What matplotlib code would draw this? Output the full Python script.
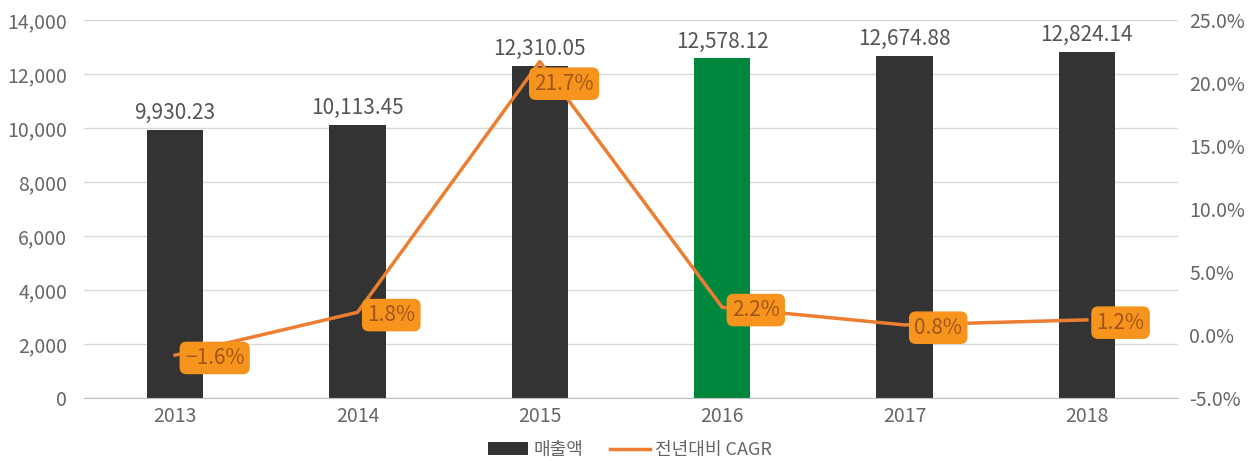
import matplotlib
matplotlib.use('Agg')
import matplotlib.pyplot as plt
from matplotlib.ticker import FuncFormatter

plt.rcParams['font.family'] = ['Noto Sans CJK KR', 'DejaVu Sans']

years = ['2013', '2014', '2015', '2016', '2017', '2018']
sales = [9930.23, 10113.45, 12310.05, 12578.12, 12674.88, 12824.14]
cagr = [-1.6, 1.8, 21.7, 2.2, 0.8, 1.2]
bar_colors = ['#333333', '#333333', '#333333', '#00873E', '#333333', '#333333']

fig = plt.figure(figsize=(12.6, 4.61), dpi=100)
ax = fig.add_axes([84 / 1260, 1 - 398 / 461, (1178 - 84) / 1260, 378 / 461])
x = list(range(len(years)))
bars = ax.bar(x, sales, width=0.31, color=bar_colors, zorder=2, label='매출액')
ax.set_xlim(-0.5, 5.5)
ax.set_ylim(0, 14000)
ax.set_yticks(range(0, 14001, 2000))
ax.yaxis.set_major_formatter(FuncFormatter(lambda v, p: f'{v:,.0f}'))
ax.set_xticks(x)
ax.set_xticklabels(years)
ax.grid(axis='y', color='#D9D9D9', lw=1, zorder=0)
for s in ['top', 'right', 'left']:
    ax.spines[s].set_visible(False)
ax.spines['bottom'].set_color('#BFBFBF')
ax.tick_params(axis='both', length=0, colors='#666666', labelsize=14)
ax.tick_params(axis='x', pad=6)
ax.tick_params(axis='y', pad=12)

for xi, v in zip(x, sales):
    ax.annotate(f'{v:,.2f}', (xi, v), xytext=(0, 4), textcoords='offset points',
                ha='center', va='bottom', fontsize=15, color='#555555')

ax2 = ax.twinx()
ax2.set_ylim(-5, 25)
ax2.set_yticks(range(-5, 26, 5))
ax2.yaxis.set_major_formatter(FuncFormatter(lambda v, p: f'{v:.1f}%'))
for s in ax2.spines.values():
    s.set_visible(False)
ax2.tick_params(axis='y', length=0, colors='#666666', labelsize=14, pad=8)
line, = ax2.plot(x, cagr, color='#ED7D31', lw=2.5, zorder=3, label='전년대비 CAGR')

for xi, v in zip(x, cagr):
    if v > 20:
        off, va = (-4, -8), 'top'
    else:
        off, va = (7, -2), 'center'
    t = f'{v:.1f}%'.replace('-', '−')
    ax2.annotate(t, (xi, v), xytext=off, textcoords='offset points',
                 ha='left', va=va, fontsize=15, color='#A0561A',
                 bbox=dict(boxstyle='round,pad=0.22,rounding_size=0.3',
                           fc='#F7941D', ec='#F7941D'), zorder=4)

fig.legend([bars, line], ['매출액', '전년대비 CAGR'], loc='center',
           bbox_to_anchor=(0.5, 1 - 450 / 461), ncol=2, frameon=False,
           fontsize=13, labelcolor='#666666', handlelength=2.2,
           handletextpad=0.3, columnspacing=1.5)

fig.savefig('out.png', dpi=100)
